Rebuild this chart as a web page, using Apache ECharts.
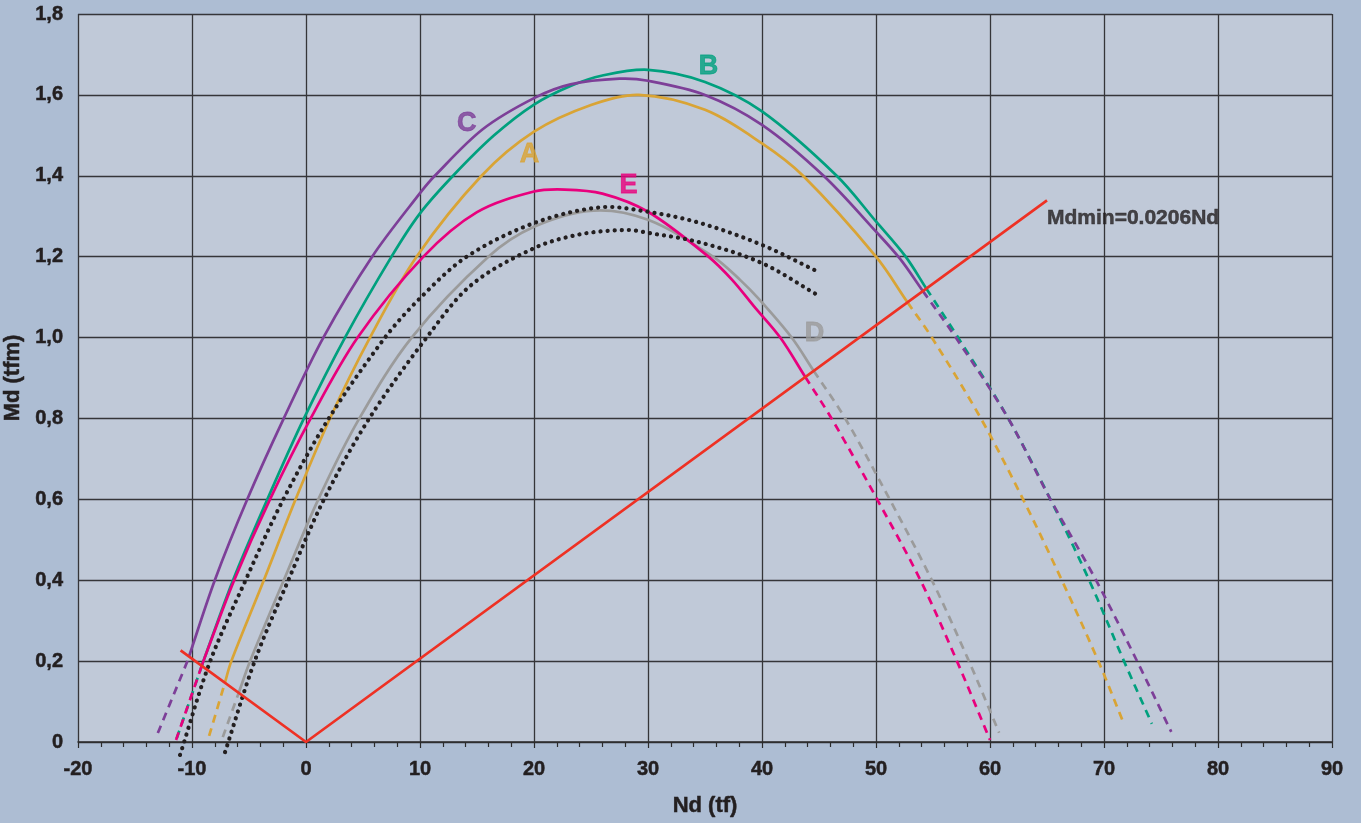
<!DOCTYPE html>
<html>
<head>
<meta charset="utf-8">
<title>Md–Nd interaction curves</title>
<script src="https://cdn.jsdelivr.net/npm/echarts@6/dist/echarts.min.js"></script>
<style>
  html, body { margin: 0; padding: 0; background: #adbdd3; }
  #chart { width: 1361px; height: 823px; }
</style>
</head>
<body>
<div id="chart"></div>
<script>
// Axis ranges and tick spacing
const xRange = [-20, 90];
const xStep = 10;
const yRange = [0, 1.8];
const yStep = 0.2;

// Minimum moment line: Md = 0.0206 * |Nd|
const mdminCoef = 0.0206;
const mdminNd = [-11, 0, 65];
const mdminText = 'Mdmin=0.0206Nd';

// Interaction curves, [Nd, Md] pairs
const curveA = [[-8.5,0.015],[-6.55,0.2],[-3.7,0.4],[-0.91,0.6],[2.1,0.8],[5.61,1.0],[9.7,1.2],[15.4,1.4],[20,1.509],[25,1.575],[29.2,1.6],[35,1.563],[40,1.48],[43.6,1.4],[50,1.2],[54.9,1.0],[59.2,0.8],[62.9,0.6],[66.3,0.4],[69.5,0.2],[71.75,0.045]];
const curveB = [[-11.34,0.009],[-9.0,0.2],[-6.4,0.4],[-3.39,0.6],[-0.18,0.8],[3.42,1.0],[7.5,1.2],[10,1.307],[12.9,1.4],[16.5,1.50],[20,1.576],[23.2,1.622],[26,1.648],[30,1.662],[35,1.632],[40,1.559],[46.55,1.4],[50,1.287],[52.6,1.2],[57.2,1.0],[61.6,0.8],[65.3,0.6],[68.7,0.4],[71.75,0.2],[74.2,0.045]];
const curveC = [[-13.0,0.022],[-10.4,0.2],[-8.0,0.4],[-5.15,0.6],[-1.95,0.8],[1.52,1.0],[5.8,1.2],[10,1.357],[11.3,1.4],[15.5,1.515],[20,1.592],[23.2,1.626],[27.5,1.64],[30,1.635],[35,1.6],[40,1.526],[45.4,1.4],[50,1.262],[52.1,1.195],[57.0,1.0],[61.6,0.8],[65.3,0.6],[69.3,0.4],[72.9,0.2],[75.9,0.025]];
const curveD = [[-7.3,0.012],[-4.9,0.2],[-1.95,0.4],[1.08,0.6],[4.68,0.8],[9.27,1.0],[16.0,1.2],[20,1.274],[25.2,1.314],[30,1.291],[35.7,1.2],[38.1,1.142],[39.8,1.093],[42.6,1.0],[47.3,0.8],[51.2,0.6],[54.9,0.4],[58.15,0.2],[60.8,0.023]];
const curveE = [[-11.4,0.005],[-9.0,0.2],[-6.3,0.4],[-3.16,0.6],[0.41,0.8],[4.53,1.0],[10.3,1.2],[15,1.31],[20,1.361],[22.7,1.366],[26,1.356],[30,1.311],[35.3,1.2],[37.4,1.142],[39.3,1.077],[41.6,1.0],[46.1,0.8],[50.1,0.6],[53.9,0.4],[57.1,0.2],[60.0,0.005]];
const dottedUpper = [[-11.05,-0.032],[-8.4,0.2],[-5.3,0.4],[-1.99,0.6],[2.0,0.8],[6.93,1.0],[10,1.097],[14.1,1.2],[20,1.283],[25.8,1.322],[30,1.311],[34.6,1.283],[40,1.229],[44.9,1.163]];
const dottedLower = [[-7.1,-0.025],[-4.5,0.2],[-1.55,0.4],[1.58,0.6],[5.55,0.8],[10.58,1.0],[14.5,1.13],[20,1.221],[24,1.255],[28.1,1.266],[30,1.259],[34.6,1.235],[40,1.184],[44.7,1.108]];

// Curve names, colours and label anchors [Nd, Md]
const curveNames = ['A', 'B', 'C', 'D', 'E'];
const curveColors = ['#d9a435', '#00a07e', '#7d3f98', '#9b9b9b', '#e8007d'];
const curveLabelPos = [[19.6,1.452], [35.3,1.669], [14.1,1.53], [44.6,1.01], [28.3,1.377]];
const mdminLabelPos = [65.0, 1.296];

const curves = [curveA, curveB, curveC, curveD, curveE];

function mdmin(nd) { return mdminCoef * Math.abs(nd); }

// Insert the crossings with the Mdmin line and remember where they are
function withCrossings(pts) {
  const out = [];
  let iL = 0, iR = -1;
  pts.forEach((b, i) => {
    if (i > 0) {
      const a = pts[i - 1];
      const fa = a[1] - mdmin(a[0]);
      const fb = b[1] - mdmin(b[0]);
      if ((fa < 0) !== (fb < 0)) {
        const t = fa / (fa - fb);
        out.push([a[0] + t * (b[0] - a[0]), a[1] + t * (b[1] - a[1])]);
        if (fa < 0) iL = out.length - 1; else iR = out.length - 1;
      }
    }
    out.push(b);
  });
  if (iR < 0) iR = out.length - 1;
  return { pts: out, iL, iR };
}

// Cubic pieces through pixel points (Catmull-Rom style, weighted by segment length)
function bezierPieces(p) {
  const n = p.length;
  const dist = (a, b) => Math.hypot(b[0] - a[0], b[1] - a[1]) || 1e-6;
  const fwd = [], back = [];
  for (let i = 0; i < n; i++) {
    const prev = p[Math.max(i - 1, 0)], next = p[Math.min(i + 1, n - 1)];
    const vx = next[0] - prev[0], vy = next[1] - prev[1];
    const l0 = i > 0 ? dist(p[i - 1], p[i]) : 0;
    const l1 = i < n - 1 ? dist(p[i], p[i + 1]) : 0;
    const k = (i === 0 || i === n - 1) ? 1 / 3 : 1 / 3;
    const sum = (i === 0 || i === n - 1) ? (l0 + l1) : (l0 + l1);
    const f1 = (i === 0) ? k : (i === n - 1 ? 0 : k * l1 / sum);
    const f0 = (i === n - 1) ? k : (i === 0 ? 0 : k * l0 / sum);
    fwd.push([p[i][0] + vx * f1, p[i][1] + vy * f1]);
    back.push([p[i][0] - vx * f0, p[i][1] - vy * f0]);
  }
  const pieces = [];
  for (let i = 0; i < n - 1; i++) pieces.push([fwd[i], back[i + 1], p[i + 1]]);
  return pieces;
}

function pathData(p, pieces, from, to) {
  let d = 'M' + p[from][0] + ' ' + p[from][1];
  for (let i = from; i < to; i++) {
    const [c1, c2, e] = pieces[i];
    d += ' C' + c1[0] + ' ' + c1[1] + ' ' + c2[0] + ' ' + c2[1] + ' ' + e[0] + ' ' + e[1];
  }
  return d;
}

const dashPattern = [8, 6];
const dotPattern = [0.1, 7];

// One custom series per curve: solid above the Mdmin line, dashed below it
function curveSeries(points, color, split) {
  const info = split ? withCrossings(points) : { pts: points, iL: 0, iR: points.length - 1 };
  return {
    type: 'custom', coordinateSystem: 'cartesian2d', silent: true, clip: false, z: 3,
    data: points,
    renderItem: (params, api) => {
      if (params.dataIndex !== 0) return null;
      const px = info.pts.map(d => api.coord(d));
      const pieces = bezierPieces(px);
      const children = [];
      const base = { fill: 'none', stroke: color, lineWidth: split ? 2.7 : 4.2, lineCap: split ? 'butt' : 'round' };
      const add = (from, to, dash) => {
        if (to <= from) return;
        children.push({
          type: 'path',
          shape: { pathData: pathData(px, pieces, from, to) },
          style: Object.assign({}, base, dash ? { lineDash: dash } : {})
        });
      };
      if (split) {
        add(0, info.iL, dashPattern);
        add(info.iL, info.iR, null);
        add(info.iR, px.length - 1, dashPattern);
      } else {
        add(0, px.length - 1, dotPattern);
      }
      return { type: 'group', children };
    }
  };
}

const series = [];
curves.forEach((pts, i) => series.push(curveSeries(pts, curveColors[i], true)));
[dottedUpper, dottedLower].forEach(pts => series.push(curveSeries(pts, '#231f20', false)));

// Mdmin line
series.push({
  type: 'line', showSymbol: false, symbol: 'none', silent: true, z: 5,
  data: mdminNd.map(nd => [nd, mdmin(nd)]),
  lineStyle: { color: '#ee3124', width: 2.7 }
});

const fontFamily = 'Liberation Sans, Arial, sans-serif';
const ink = '#231f20';

// Curve letters
series.push({
  type: 'scatter', silent: true, z: 6, symbolSize: 1,
  itemStyle: { color: 'transparent' },
  data: curveNames.map((n, i) => ({
    name: n, value: curveLabelPos[i],
    label: { color: curveColors[i], textBorderColor: curveColors[i] }
  })),
  label: {
    show: true, position: 'inside', formatter: '{b}',
    fontFamily, fontWeight: 'bold', fontSize: 27, textBorderWidth: 0.8
  }
});

// Mdmin annotation
series.push({
  type: 'scatter', silent: true, z: 6, symbolSize: 1,
  itemStyle: { color: 'transparent' },
  data: [{ name: mdminText, value: mdminLabelPos }],
  label: {
    show: true, position: 'inside', align: 'left', formatter: '{b}',
    color: ink, textBorderColor: ink, textBorderWidth: 0.5,
    fontFamily, fontWeight: 'bold', fontSize: 21
  }
});

const tickFont = { fontFamily, fontWeight: 'bold', fontSize: 20, color: ink, textBorderColor: ink, textBorderWidth: 0.5 };
const nameFont = { fontFamily, fontWeight: 'bold', fontSize: 22, color: ink, textBorderColor: ink, textBorderWidth: 0.5 };
const gridLine = { show: true, lineStyle: { color: '#353539', width: 1.3 } };

const option = {
  backgroundColor: '#adbdd3',
  animation: false,
  grid: {
    left: 78, right: 29, top: 14, bottom: 81,
    containLabel: false, outerBoundsMode: 'none',
    show: true, backgroundColor: '#c0c9d8', borderWidth: 0
  },
  xAxis: {
    type: 'value', min: xRange[0], max: xRange[1], interval: xStep,
    name: 'Nd (tf)', nameLocation: 'middle', nameGap: 53,
    nameTextStyle: nameFont,
    axisLine: { show: true, onZero: false, lineStyle: { color: '#2c2c2c', width: 1.5 } },
    axisTick: { show: true, length: 6, lineStyle: { color: '#2c2c2c', width: 1.2 } },
    minorTick: { show: true, splitNumber: 5, length: 5, lineStyle: { color: '#2c2c2c', width: 1.2 } },
    axisLabel: Object.assign({ margin: 17 }, tickFont),
    splitLine: gridLine
  },
  yAxis: {
    type: 'value', min: yRange[0], max: yRange[1], interval: yStep,
    name: 'Md (tfm)', nameLocation: 'middle', nameGap: 43, nameRotate: 90,
    nameTextStyle: nameFont,
    axisLine: { show: false },
    axisTick: { show: false },
    axisLabel: Object.assign({
      margin: 15,
      formatter: v => (Math.abs(v) < 1e-9 ? '0' : v.toFixed(1).replace('.', ','))
    }, tickFont),
    splitLine: gridLine
  },
  series
};

const chart = echarts.init(document.getElementById('chart'), null, { renderer: 'canvas' });
chart.setOption(option);
</script>
</body>
</html>
